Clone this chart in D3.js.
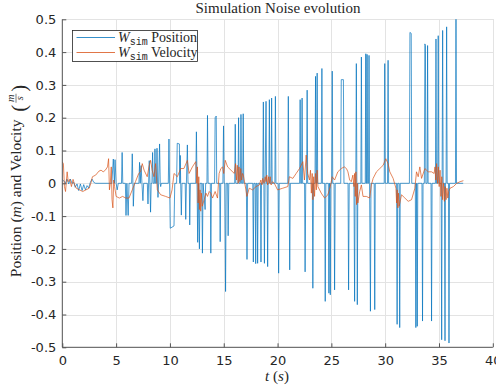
<!DOCTYPE html>
<html>
<head>
<meta charset="utf-8">
<script src="https://cdn.jsdelivr.net/npm/d3@7"></script>
<style>
  html, body { margin: 0; padding: 0; background: #fff; }
  svg { display: block; }
</style>
</head>
<body>
<svg id="chart" width="496" height="389"></svg>
<script>
// Axis ticks
const xTicks = [0, 5, 10, 15, 20, 25, 30, 35, 40];
const yTicks = [-0.5, -0.4, -0.3, -0.2, -0.1, 0, 0.1, 0.2, 0.3, 0.4, 0.5];
const yTickLabels = ["-0.5", "-0.4", "-0.3", "-0.2", "-0.1", "0", "0.1", "0.2", "0.3", "0.4", "0.5"];

// Series names for the legend
const seriesNames = ["Position", "Velocity"];

// W_sim position noise: [t (s), value]
const positionData = [
  [0, 0.012], [0.12, 0.008], [0.3, 0.0], [0.43, 0.013], [0.6, -0.002], [0.75, 0.013], [0.9, 0.0],
  [1.06, 0.003], [1.2, -0.012], [1.37, -0.002], [1.52, -0.022], [1.68, -0.002], [1.84, -0.022],
  [1.99, -0.004], [2.15, -0.02], [2.3, -0.007], [2.45, -0.014], [2.61, 0.003], [2.76, 0.013],
  [2.92, 0.003], [3.1, 0], [4.6, 0],
  [4.74, 0.074], [4.84, 0], [4.9, 0.072], [5.0, 0], [5.1, -0.02], [5.2, 0],
  [5.5, 0], [5.56, 0.094], [5.62, 0], [5.86, 0], [5.92, -0.098], [6.0, 0], [6.12, -0.098], [6.2, 0],
  [6.44, 0], [6.5, 0.09], [6.56, 0], [6.6, -0.07], [6.68, 0],
  [7.12, 0], [7.18, 0.064], [7.24, 0], [7.32, 0.054], [7.4, 0], [7.49, -0.053], [7.56, 0],
  [7.9, 0], [7.96, -0.063], [8.02, 0], [8.08, 0.069], [8.14, 0], [8.2, -0.088], [8.26, 0],
  [8.33, 0], [8.39, 0.094], [8.45, 0], [8.56, 0], [8.61, 0.105], [8.66, 0], [8.75, 0],
  [8.8, 0.107], [8.85, 0], [8.89, -0.043], [8.95, 0], [9.04, 0.12], [9.1, 0], [9.14, -0.01], [9.2, 0],
  [9.85, 0], [9.91, 0.135], [9.97, 0], [10.03, -0.137], [10.38, -0.13], [10.45, 0],
  [10.62, 0], [10.68, 0.122], [10.88, 0.12], [10.92, 0], [10.96, 0.085], [11.0, 0], [11.06, -0.097], [11.12, 0],
  [11.42, 0], [11.47, -0.11], [11.53, 0], [11.62, 0.117], [11.68, 0],
  [11.8, 0], [11.84, -0.127], [11.9, 0],
  [12.4, 0], [12.46, 0.157], [12.52, 0], [12.58, -0.18], [12.64, 0], [12.74, -0.2], [12.8, 0],
  [12.96, 0], [13.02, -0.213], [13.08, 0], [13.27, -0.08], [13.32, 0],
  [13.44, 0], [13.49, 0.207], [13.55, 0], [13.75, 0], [13.8, -0.213], [13.86, 0],
  [14.15, 0], [14.2, 0.2], [14.3, 0.205], [14.35, 0],
  [14.62, 0], [14.67, -0.178], [14.72, 0], [14.92, 0], [14.98, 0.175], [15.04, 0],
  [15.1, 0], [15.17, -0.33], [15.23, 0], [15.36, 0], [15.41, -0.16], [15.47, 0],
  [16.02, 0], [16.07, 0.18], [16.12, 0], [16.33, 0], [16.38, 0.2], [16.43, 0],
  [16.55, 0], [16.6, 0.21], [16.66, 0], [16.76, 0], [16.81, 0.212], [16.86, 0],
  [17.1, 0], [17.16, -0.232], [17.22, 0],
  [17.7, 0], [17.75, -0.24], [17.8, 0], [17.92, 0], [17.97, -0.245], [18.02, 0],
  [18.1, 0], [18.15, -0.244], [18.2, 0], [18.41, 0], [18.46, -0.24], [18.51, 0],
  [18.63, 0], [18.68, 0.248], [18.73, 0], [18.78, -0.244], [18.84, 0], [18.93, 0.25], [18.98, 0],
  [19.03, 0], [19.08, -0.254], [19.13, 0], [19.19, 0], [19.24, 0.255], [19.29, 0],
  [19.4, 0], [19.45, 0.26], [19.5, 0], [19.75, 0], [19.8, 0.265], [19.85, 0],
  [20.05, 0], [20.1, -0.274], [20.16, 0],
  [20.95, 0], [21.0, 0.265], [21.05, 0], [21.08, 0], [21.13, -0.264], [21.19, 0],
  [22.05, 0], [22.1, 0.255], [22.15, 0], [22.23, 0], [22.28, 0.26], [22.33, 0],
  [22.51, 0], [22.56, -0.27], [22.62, 0], [22.7, 0], [22.75, 0.284], [22.8, 0],
  [23.23, 0], [23.28, -0.32], [23.34, 0], [23.48, 0], [23.53, 0.326], [23.58, 0],
  [23.63, 0], [23.68, 0.336], [23.73, 0], [24.07, 0], [24.12, 0.35], [24.17, 0],
  [24.38, 0], [24.43, -0.36], [24.49, 0],
  [24.72, 0], [24.77, -0.335], [24.82, 0], [24.85, 0], [24.9, -0.34], [24.95, 0],
  [25.03, 0], [25.08, 0.342], [25.13, 0], [25.25, 0], [25.3, -0.325], [25.36, 0],
  [25.87, 0], [25.92, 0.316], [26.12, 0.316], [26.17, 0],
  [26.55, 0], [26.6, -0.325], [26.66, 0],
  [27.1, 0], [27.16, -0.36], [27.21, 0], [27.27, 0], [27.32, 0.365], [27.37, 0], [27.41, -0.37], [27.46, 0],
  [27.74, 0], [27.79, 0.385], [27.84, 0],
  [28.15, 0], [28.2, 0.395], [28.24, 0], [28.28, 0], [28.32, 0.393], [28.37, 0],
  [28.45, 0], [28.5, 0.39], [28.55, 0], [28.63, -0.39], [28.68, 0],
  [28.98, 0], [29.03, -0.385], [29.08, 0],
  [29.91, 0], [29.96, 0.365], [30.01, 0], [30.22, 0], [30.27, 0.375], [30.32, 0],
  [31.06, 0], [31.11, -0.43], [31.16, 0], [31.3, 0], [31.35, -0.44], [31.4, 0],
  [32.25, 0], [32.3, 0.46], [32.42, 0.457], [32.47, 0],
  [32.8, 0], [32.85, -0.44], [32.9, 0], [32.93, 0], [32.98, -0.436], [33.03, 0],
  [33.42, 0], [33.47, -0.42], [33.52, 0],
  [33.64, 0], [33.69, 0.425], [33.74, 0.42], [33.78, 0], [33.9, 0], [33.94, 0.42], [33.99, 0],
  [34.26, 0], [34.31, -0.42], [34.36, 0],
  [34.67, 0], [34.72, 0.44], [34.77, 0], [34.88, 0], [34.93, 0.45], [34.98, 0],
  [35.2, 0], [35.25, -0.477], [35.29, 0], [35.34, 0.466], [35.39, 0],
  [35.51, 0], [35.56, -0.48], [35.6, 0], [35.66, 0], [35.71, 0.477], [35.76, 0],
  [35.88, 0], [35.93, -0.487], [35.98, 0],
  [36.53, 0], [36.58, 0.5], [36.63, 0], [37.25, 0]
];

// W_sim velocity noise: [t (s), value]
const velocityData = [
  [0, 0.065], [0.1, 0.06], [0.2, -0.01], [0.3, -0.025], [0.45, 0.035], [0.55, 0.005], [0.7, 0.012],
  [0.85, -0.01], [1.0, 0.012], [1.15, -0.005], [1.3, -0.015], [1.6, -0.02], [1.9, -0.025], [2.2, -0.02],
  [2.5, -0.015], [2.65, 0.0], [2.8, 0.02], [3.1, 0.025], [3.4, 0.037], [3.6, 0.04], [3.8, 0.035],
  [4.0, 0.04], [4.2, 0.05], [4.3, 0.075], [4.38, -0.02], [4.46, 0.0], [4.55, 0.05], [4.62, -0.05],
  [4.7, -0.075], [4.78, 0.01], [4.86, -0.01], [5.0, -0.04], [5.3, -0.045], [5.6, -0.04], [5.9, -0.045],
  [6.2, -0.045], [6.5, -0.02], [6.8, 0.005], [7.1, 0.03], [7.27, 0.035], [7.43, 0.06], [7.6, 0.04],
  [7.89, 0.02], [8.05, 0.05], [8.2, 0.07], [8.35, 0.04], [8.52, 0.02], [8.67, 0.06], [8.83, -0.02],
  [9.14, -0.035], [9.6, -0.04], [10.0, -0.045], [10.2, -0.02], [10.38, 0.03], [10.69, 0.02],
  [11.0, 0.045], [11.3, 0.045], [11.62, 0.07], [11.78, 0.03], [12.09, 0.05], [12.4, 0.066],
  [12.5, 0.0], [12.56, 0.05], [12.62, -0.06], [12.68, 0.02], [12.74, -0.08], [12.8, -0.02],
  [12.86, -0.085], [12.92, -0.03], [13.0, -0.07], [13.18, -0.05], [13.35, -0.03], [13.49, -0.04],
  [13.65, -0.025], [13.8, -0.03], [13.96, -0.045], [14.2, -0.025], [14.42, -0.045], [14.57, 0.03],
  [14.73, 0.045], [14.89, 0.05], [15.0, 0.03], [15.14, 0.07], [15.36, 0.05], [15.67, 0.04],
  [15.98, 0.03], [16.1, 0.06], [16.18, 0.01], [16.26, 0.055], [16.34, 0.0], [16.42, 0.05],
  [16.5, 0.005], [16.58, 0.045], [16.66, 0.01], [16.75, 0.03], [16.82, 0.025], [17.06, -0.02],
  [17.15, -0.04], [17.37, -0.015], [17.68, -0.02], [18.0, -0.01], [18.31, -0.005], [18.45, 0.01],
  [18.55, -0.005], [18.62, 0.015], [18.75, 0.0], [18.85, 0.02], [18.93, 0.005], [19.0, 0.025],
  [19.08, -0.005], [19.16, 0.02], [19.24, 0.0], [19.32, 0.02], [19.4, -0.005], [19.55, 0.005],
  [19.7, 0.0], [20.0, -0.02], [20.48, -0.015], [20.95, -0.01], [21.1, 0.02], [21.42, 0.015],
  [21.73, 0.03], [22.04, 0.045], [22.35, 0.066], [22.5, 0.01], [22.66, 0.086], [22.8, 0.03],
  [22.97, 0.01], [23.06, 0.04], [23.14, -0.03], [23.22, 0.03], [23.28, -0.05], [23.36, 0.02],
  [23.44, -0.04], [23.52, 0.03], [23.6, -0.02], [23.68, 0.04], [23.75, -0.01], [24.06, -0.03],
  [24.37, -0.045], [24.68, -0.035], [24.9, -0.01], [25.08, 0.02], [25.3, 0.01], [25.6, 0.035],
  [25.92, 0.045], [26.2, 0.05], [26.4, 0.045], [26.54, 0.035], [26.7, 0.01], [26.85, 0.005],
  [27.0, 0.025], [27.1, -0.01], [27.16, 0.03], [27.22, -0.04], [27.28, 0.035], [27.34, -0.065],
  [27.4, 0.0], [27.46, -0.06], [27.63, -0.025], [27.79, -0.005], [27.94, -0.04], [28.25, -0.04],
  [28.56, -0.045], [28.72, -0.005], [28.88, 0.015], [29.19, 0.035], [29.5, 0.045], [29.81, 0.055],
  [30.06, 0.075], [30.27, 0.06], [30.43, 0.035], [30.74, 0.015], [31.0, -0.015], [31.06, -0.06],
  [31.12, -0.02], [31.18, -0.075], [31.24, -0.03], [31.3, -0.07], [31.52, -0.035], [31.83, -0.045],
  [32.14, -0.055], [32.45, -0.05], [32.76, -0.015], [32.91, 0.035], [33.07, 0.02], [33.22, 0.05],
  [33.38, 0.015], [33.69, 0.045], [34.0, 0.035], [34.31, 0.035], [34.55, 0.03], [34.63, 0.05],
  [34.7, 0.01], [34.78, 0.06], [34.86, 0.0], [34.94, 0.05], [35.02, -0.01], [35.1, 0.04],
  [35.18, -0.04], [35.26, 0.02], [35.34, -0.05], [35.42, 0.0], [35.5, -0.055], [35.58, -0.01],
  [35.66, -0.05], [35.74, -0.015], [35.82, -0.045], [35.9, -0.025], [36.03, -0.015], [36.34, -0.01],
  [36.65, 0.0], [36.96, 0.005], [37.27, 0.008]
];

// ---- drawing ----
const svg = d3.select("#chart");
const W = 496, H = 389;
const plot = { left: 62.3, right: 492.8, top: 19.3, bottom: 347.3 };
const serif = "'Liberation Serif', 'Times New Roman', serif";
const sans = "'DejaVu Sans', sans-serif";
const ink = "#262626";
const colors = ["#0072BD", "#D95319"];

svg.append("rect").attr("width", W).attr("height", H).attr("fill", "#fff");

const x = d3.scaleLinear().domain([0, 40]).range([plot.left, plot.right]);
const y = d3.scaleLinear().domain([-0.5, 0.5]).range([plot.bottom, plot.top]);

// grid
const grid = svg.append("g").attr("stroke", "#e3e3e3").attr("stroke-width", 1).attr("shape-rendering", "crispEdges");
grid.selectAll("line.gx").data(xTicks).join("line")
  .attr("x1", d => Math.round(x(d)) + 0.5).attr("x2", d => Math.round(x(d)) + 0.5)
  .attr("y1", plot.top).attr("y2", plot.bottom);
grid.selectAll("line.gy").data(yTicks).join("line")
  .attr("x1", plot.left).attr("x2", plot.right)
  .attr("y1", d => Math.round(y(d)) + 0.5).attr("y2", d => Math.round(y(d)) + 0.5);

// data lines
svg.append("defs").append("clipPath").attr("id", "clip")
  .append("rect").attr("x", plot.left).attr("y", plot.top - 1)
  .attr("width", plot.right - plot.left).attr("height", plot.bottom - plot.top + 2);

const line = d3.line().x(d => x(d[0])).y(d => y(d[1]));
const lines = svg.append("g").attr("clip-path", "url(#clip)").attr("fill", "none")
  .attr("stroke-linejoin", "round");
lines.append("path").datum(positionData).attr("d", line)
  .attr("stroke", colors[0]).attr("stroke-width", 0.7);
lines.append("path").datum(velocityData).attr("d", line)
  .attr("stroke", colors[1]).attr("stroke-width", 0.7);

// axes (left and bottom, ticks pointing inward)
const xAxis = d3.axisBottom(x).tickValues(xTicks).tickSize(-4).tickPadding(8).tickFormat(d3.format("d"));
const yAxis = d3.axisLeft(y).tickValues(yTicks).tickSize(-4).tickPadding(6)
  .tickFormat((d, i) => yTickLabels[i]);

const gx = svg.append("g").attr("transform", `translate(0,${plot.bottom})`).call(xAxis);
const gy = svg.append("g").attr("transform", `translate(${plot.left},0)`).call(yAxis);
[gx, gy].forEach(g => {
  g.select(".domain").attr("stroke", "#555").attr("stroke-width", 1);
  g.selectAll(".tick line").attr("stroke", "#555").attr("stroke-width", 1);
  g.selectAll(".tick text").attr("fill", ink).attr("font-family", sans).attr("font-size", 13);
});
gx.select(".domain").attr("d", `M${plot.left},0H${plot.right}`);
gy.select(".domain").attr("d", `M0,${plot.bottom}V${plot.top}`);

// title
svg.append("text").attr("x", 278).attr("y", 12.5).attr("text-anchor", "middle")
  .attr("font-family", serif).attr("font-size", 15).attr("fill", ink)
  .text("Simulation Noise evolution");

// x label: t (s)
const xl = svg.append("text").attr("x", 277).attr("y", 381).attr("text-anchor", "middle")
  .attr("font-family", serif).attr("font-size", 15).attr("fill", ink);
xl.append("tspan").attr("font-style", "italic").text("t");
xl.append("tspan").text(" (");
xl.append("tspan").attr("font-style", "italic").text("s");
xl.append("tspan").text(")");

// y label: Position (m) and Velocity (m/s)
const ylab = svg.append("g");
const yt = ylab.append("text").attr("x", 0).attr("y", 0)
  .attr("font-family", serif).attr("font-size", 15.5).attr("fill", ink);
yt.append("tspan").text("Position (");
yt.append("tspan").attr("font-style", "italic").text("m");
yt.append("tspan").text(") and Velocity\u00a0\u00a0");
let cx = yt.node().getComputedTextLength();
const lp = ylab.append("text").attr("x", cx).attr("y", 4.5)
  .attr("font-family", serif).attr("font-size", 21).attr("fill", ink).text("(");
cx += lp.node().getComputedTextLength() + 2;
const fw = 9;
ylab.append("text").attr("x", cx + fw / 2).attr("y", -7.5).attr("text-anchor", "middle")
  .attr("font-family", serif).attr("font-style", "italic").attr("font-size", 10.5).attr("fill", ink).text("m");
ylab.append("line").attr("x1", cx).attr("x2", cx + fw).attr("y1", -5).attr("y2", -5)
  .attr("stroke", ink).attr("stroke-width", 0.6);
ylab.append("text").attr("x", cx + fw / 2).attr("y", 2).attr("text-anchor", "middle")
  .attr("font-family", serif).attr("font-style", "italic").attr("font-size", 10.5).attr("fill", ink).text("s");
cx += fw + 2;
const rp = ylab.append("text").attr("x", cx).attr("y", 4.5)
  .attr("font-family", serif).attr("font-size", 21).attr("fill", ink).text(")");
cx += rp.node().getComputedTextLength();
ylab.attr("transform", `translate(21,${181 + cx / 2}) rotate(-90)`);

// legend
const lg = svg.append("g");
lg.append("rect").attr("x", 72.5).attr("y", 30.5).attr("width", 125).attr("height", 31)
  .attr("fill", "#fff").attr("stroke", ink).attr("stroke-width", 0.8);
seriesNames.forEach((name, i) => {
  const ly = 37.5 + i * 15;
  lg.append("line").attr("x1", 76.5).attr("x2", 115).attr("y1", ly).attr("y2", ly)
    .attr("stroke", colors[i]).attr("stroke-width", 0.8);
  const t = lg.append("text").attr("x", 118).attr("y", ly + 4.5)
    .attr("font-family", serif).attr("font-size", 14).attr("fill", ink);
  t.append("tspan").attr("font-style", "italic").text("W");
  t.append("tspan").attr("font-family", "'Liberation Mono', 'DejaVu Sans Mono', monospace")
    .attr("font-size", 10).attr("dy", 2.5).text("sim");
  t.append("tspan").attr("dy", -2.5).text(" " + name);
});
</script>
</body>
</html>
